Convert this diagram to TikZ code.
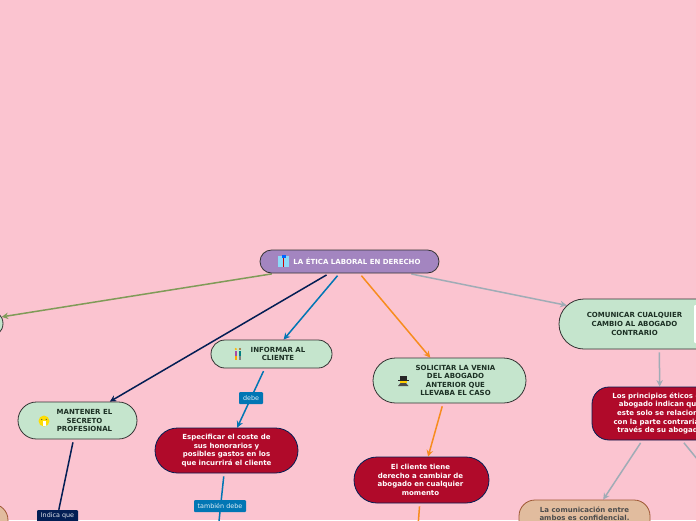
\documentclass[tikz,border=0pt]{standalone}
\usepackage{fontspec}
\setmainfont{DejaVu Sans}
\usetikzlibrary{arrows.meta,shapes.misc,backgrounds}
\definecolor{pagecolor}{RGB}{251,196,208}
\definecolor{rootcolor}{RGB}{163,133,192}
\definecolor{greencolor}{RGB}{197,229,205}
\definecolor{redcolor}{RGB}{176,10,42}
\definecolor{tancolor}{RGB}{225,188,158}
\definecolor{tanedge}{RGB}{158,88,52}
\definecolor{navycolor}{RGB}{3,30,84}
\definecolor{bluecolor}{RGB}{1,118,180}
\definecolor{orangecolor}{RGB}{247,140,30}
\definecolor{graycolor}{RGB}{160,172,182}
\definecolor{olivecolor}{RGB}{128,155,88}
\definecolor{inkcolor}{RGB}{28,48,36}
\tikzset{
  pill/.style={rounded rectangle,draw=#1,line width=0.8pt,inner sep=0pt},
  rootbox/.style={pill=black!80,fill=rootcolor,minimum width=179pt,minimum height=23pt},
  greenbox/.style={pill=black!80,fill=greencolor},
  redbox/.style={pill=navycolor,fill=redcolor},
  roundredbox/.style={rectangle,rounded corners=17pt,draw=navycolor,line width=0.8pt,fill=redcolor,inner sep=0pt},
  tanbox/.style={rectangle,rounded corners=16pt,draw=tanedge,line width=0.8pt,fill=tancolor,inner sep=0pt},
  boxtext/.style={align=center,inner sep=0pt,font=\fontsize{7}{8.6}\selectfont\bfseries},
  linktext/.style={rectangle,rounded corners=1pt,fill=#1,text=white!88!#1,inner sep=0pt,minimum height=12pt,font=\fontsize{6.4}{8}\selectfont},
  link/.style={draw=#1,line width=1.5pt,-{Stealth[length=6.5pt,width=6.5pt]},shorten <=3pt},
  plainlink/.style={draw=#1,line width=1.5pt,shorten <=3pt}
}
\begin{document}
\begin{tikzpicture}[x=1pt,y=-1pt]

  \useasboundingbox (0,0) rectangle (696,520);
  \clip (0,0) rectangle (696,520);

  % --- Boxes ---
  \node[rootbox] (etica) at (349.5,261.5) {};
  \node[greenbox,minimum width=86pt,minimum height=27pt] (izquierda) at (-40,323.5) {};
  \node[greenbox,minimum width=121pt,minimum height=28pt] (informar) at (271.5,354) {};
  \node[greenbox,minimum width=153pt,minimum height=45pt] (solicitar) at (449.5,380.5) {};
  \node[greenbox,minimum width=119pt,minimum height=37pt] (mantener) at (77.5,420.5) {};
  \node[greenbox,minimum width=200pt,minimum height=50pt] (comunicar) at (659,324) {};
  \node[redbox,minimum width=143pt,minimum height=45pt] (especificar) at (226.5,450.5) {};
  \node[redbox,minimum width=135pt,minimum height=46pt] (cambiar) at (421.5,480) {};
  \node[roundredbox,minimum width=136pt,minimum height=53pt] (principios) at (660,413.5) {};
  \node[tanbox,minimum width=131pt,minimum height=56pt] (confidencial) at (584.5,528) {};
  \node[tanbox,minimum width=70pt,minimum height=50pt] (abajo) at (-27,529) {};

  % --- Free ends below the page ---
  \coordinate (tambienfin) at (217,540);
  \coordinate (cambiarfin) at (417,540);
  \coordinate (principiosfin) at (720,487);

  % --- Labels sitting on the connectors ---
  \node[linktext=bluecolor,minimum width=24pt] (debe) at (251,398) {debe};
  \node[linktext=bluecolor,minimum width=52pt] (tambien) at (220,506) {también debe};
  \node[linktext=navycolor,minimum width=41pt] (indica) at (57.5,516) {Indica que};

  % --- Page and connectors, behind everything ---
  \begin{scope}[on background layer]
    \fill[pagecolor] (0,0) rectangle (696,520);
    \draw[link=olivecolor] (etica) -- (izquierda);
    \draw[link=navycolor] (etica) -- (mantener);
    \draw[link=bluecolor] (etica) -- (informar);
    \draw[link=orangecolor] (etica) -- (solicitar);
    \draw[link=graycolor] (etica) -- (comunicar);
    \draw[link=bluecolor] (informar) -- (especificar);
    \draw[plainlink=bluecolor] (especificar) -- (tambienfin);
    \draw[plainlink=navycolor] (mantener) -- (indica);
    \draw[link=orangecolor] (solicitar) -- (cambiar);
    \draw[plainlink=orangecolor] (cambiar) -- (cambiarfin);
    \draw[link=graycolor] (comunicar) -- (principios);
    \draw[link=graycolor] (principios) -- (confidencial);
    \draw[plainlink=graycolor] (principios) -- (principiosfin);
  \end{scope}

  % --- Box texts ---
  \node[boxtext,text=white] (eticatext) at (357,261.5) {LA ÉTICA LABORAL EN DERECHO};
  \node[boxtext,text=inkcolor] (informartext) at (278,354) {INFORMAR AL\\CLIENTE};
  \node[boxtext,text=inkcolor] (solicitartext) at (455.5,380.5) {SOLICITAR LA VENIA\\DEL ABOGADO\\ANTERIOR QUE\\LLEVABA EL CASO};
  \node[boxtext,text=inkcolor] (mantenertext) at (84.5,420.5) {MANTENER EL\\SECRETO\\PROFESIONAL};
  \node[boxtext,text=inkcolor] (comunicartext) at (634.5,324) {COMUNICAR CUALQUIER\\CAMBIO AL ABOGADO\\CONTRARIO};
  \node[boxtext,text=white] (especificartext) at (226.5,450.5) {Especificar el coste de\\sus honorarios y\\posibles gastos en los\\que incurrirá el cliente};
  \node[boxtext,text=white] (cambiartext) at (420.5,480) {El cliente tiene\\derecho a cambiar de\\abogado en cualquier\\momento};
  \node[boxtext,text=white] (principiostext) at (660,413.5) {Los principios éticos del\\abogado indican que\\este solo se relaciona\\con la parte contraria a\\través de su abogado};
  \node[boxtext,text=black!70,anchor=north] (confidencialtext) at (584.5,506.5) {La comunicación entre\\ambos es confidencial.};

  % --- Small icons ---
  % root: shirt and tie
  \fill[cyan!45!white] (278,256) rectangle (289,267);
  \fill[blue!60!cyan] (281.5,255) rectangle (285.5,258);
  \fill[red!80!black] (282.8,258) rectangle (284.2,267);
  % informar: two people
  \fill[orange!60!yellow] (235.8,349) circle (1.2);
  \fill[violet!70!white] (234.5,350.5) rectangle (237,356);
  \fill[orange!70!yellow] (234.8,356) rectangle (236.8,360);
  \fill[brown!80!black] (240,349) circle (1.2);
  \fill[teal] (238.8,350.5) rectangle (241.2,356);
  \fill[gray] (239,356) rectangle (241,360);
  % solicitar: hat and coat
  \fill[black!85] (400,376) rectangle (406.5,380);
  \fill[black!85] (398,379.5) rectangle (408.5,380.5);
  \fill[orange!40!yellow] (400,380.5) rectangle (406.5,383);
  \fill[black!70] (398,386) -- (400.5,383) -- (406,383) -- (408.5,386) -- cycle;
  % mantener: face with mask
  \fill[yellow!80!orange] (44,421) circle (5.5);
  \fill[white] (42.5,421) rectangle (45.5,426);
  \fill[black!70] (41.8,419.5) circle (0.6) (46.2,419.5) circle (0.6);
  % comunicar: blank picture
  \fill[white,rounded corners=1pt] (694,305) rectangle (724,343);

\end{tikzpicture}
\end{document}
